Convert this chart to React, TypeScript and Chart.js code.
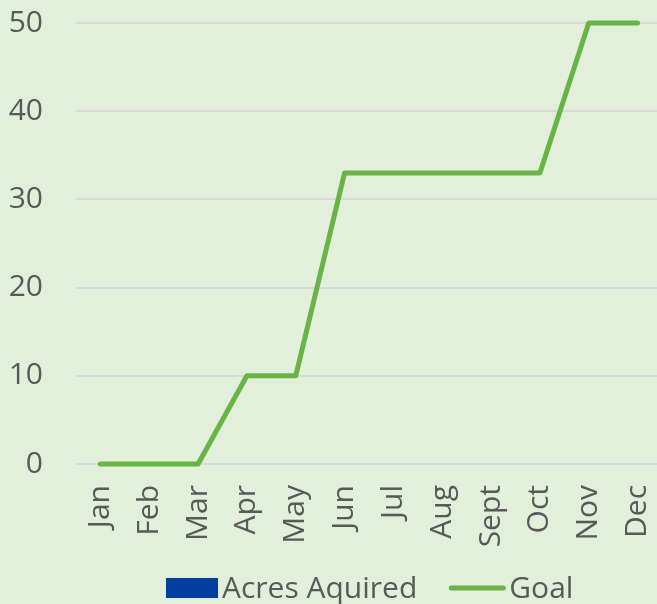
import React, { useEffect, useRef } from "react";
import { Chart, registerables } from "chart.js";

Chart.register(...registerables);

const months = ["Jan", "Feb", "Mar", "Apr", "May", "Jun", "Jul", "Aug", "Sept", "Oct", "Nov", "Dec"];
const acresAquired: (number | null)[] = [null, null, null, null, null, null, null, null, null, null, null, null];
const goal = [0, 0, 0, 10, 10, 33, 33, 33, 33, 33, 50, 50];
const yTicks = [0, 10, 20, 30, 40, 50];

const FONT = "'Open Sans', 'Noto Sans', sans-serif";
const TEXT = "#595959";
const BG = "#E2EFDA";
const BLUE = "#003FA0";
const GREEN = "#68B446";

const legendPlugin = {
  id: "customLegend",
  afterDraw(chart: any) {
    const ctx = chart.ctx as CanvasRenderingContext2D;
    ctx.save();
    ctx.font = `30px ${FONT}`;
    ctx.fillStyle = TEXT;
    ctx.textBaseline = "alphabetic";
    ctx.textAlign = "left";
    let x = 166;
    const baseY = 598;
    chart.data.datasets.forEach((ds: any) => {
      if (ds.type === "bar") {
        ctx.fillStyle = ds.backgroundColor;
        ctx.fillRect(x, 578, 52, 20);
        x += 52 + 4;
      } else {
        ctx.strokeStyle = ds.borderColor;
        ctx.lineWidth = 5;
        ctx.lineCap = "round";
        ctx.beginPath();
        ctx.moveTo(x + 2, 588);
        ctx.lineTo(x + 54, 588);
        ctx.stroke();
        x += 56 + 4;
      }
      ctx.fillStyle = TEXT;
      ctx.fillText(ds.label, x, baseY);
      x += ctx.measureText(ds.label).width + 32;
    });
    ctx.restore();
  },
};

export default function App() {
  const ref = useRef<HTMLCanvasElement | null>(null);
  useEffect(() => {
    if (!ref.current) return;
    const chart = new Chart(ref.current, {
      type: "bar",
      data: {
        labels: months,
        datasets: [
          {
            type: "bar",
            label: "Acres Aquired",
            data: acresAquired,
            backgroundColor: BLUE,
          },
          {
            type: "line",
            label: "Goal",
            data: goal,
            borderColor: GREEN,
            backgroundColor: GREEN,
            borderWidth: 5,
            pointRadius: 0,
            tension: 0,
            clip: false as any,
            borderCapStyle: "round",
            borderJoinStyle: "round",
          } as any,
        ],
      },
      options: {
        responsive: false,
        animation: false,
        layout: { padding: { top: 23, bottom: 40, left: 0, right: 0 } },
        plugins: { legend: { display: false }, tooltip: { enabled: false } },
        scales: {
          x: {
            offset: true,
            grid: { display: false },
            border: { display: false },
            ticks: {
              color: TEXT,
              font: { family: FONT, size: 30 },
              minRotation: 90,
              maxRotation: 90,
              autoSkip: false,
              padding: 13,
            },
            afterFit(scale: any) {
              scale.height = 100;
              scale.paddingLeft = 0;
              scale.paddingRight = 0;
            },
          },
          y: {
            min: 0,
            max: 50,
            afterBuildTicks(scale: any) {
              scale.ticks = yTicks.map((v) => ({ value: v }));
            },
            grid: { color: "#D9D9D9", lineWidth: 2, drawTicks: false },
            border: { display: false },
            ticks: {
              color: TEXT,
              font: { family: FONT, size: 30 },
              padding: 33,
            },
            afterFit(scale: any) {
              scale.width = 76;
              scale.paddingTop = 0;
              scale.paddingBottom = 0;
            },
          },
        },
      },
      plugins: [legendPlugin],
    });
    return () => chart.destroy();
  }, []);
  return (
    <div
      style={{
        position: "absolute",
        left: 0,
        top: 0,
        width: 657,
        height: 604,
        overflow: "hidden",
        background: BG,
      }}
    >
      <canvas ref={ref} width={662} height={604} style={{ display: "block" }} />
    </div>
  );
}
